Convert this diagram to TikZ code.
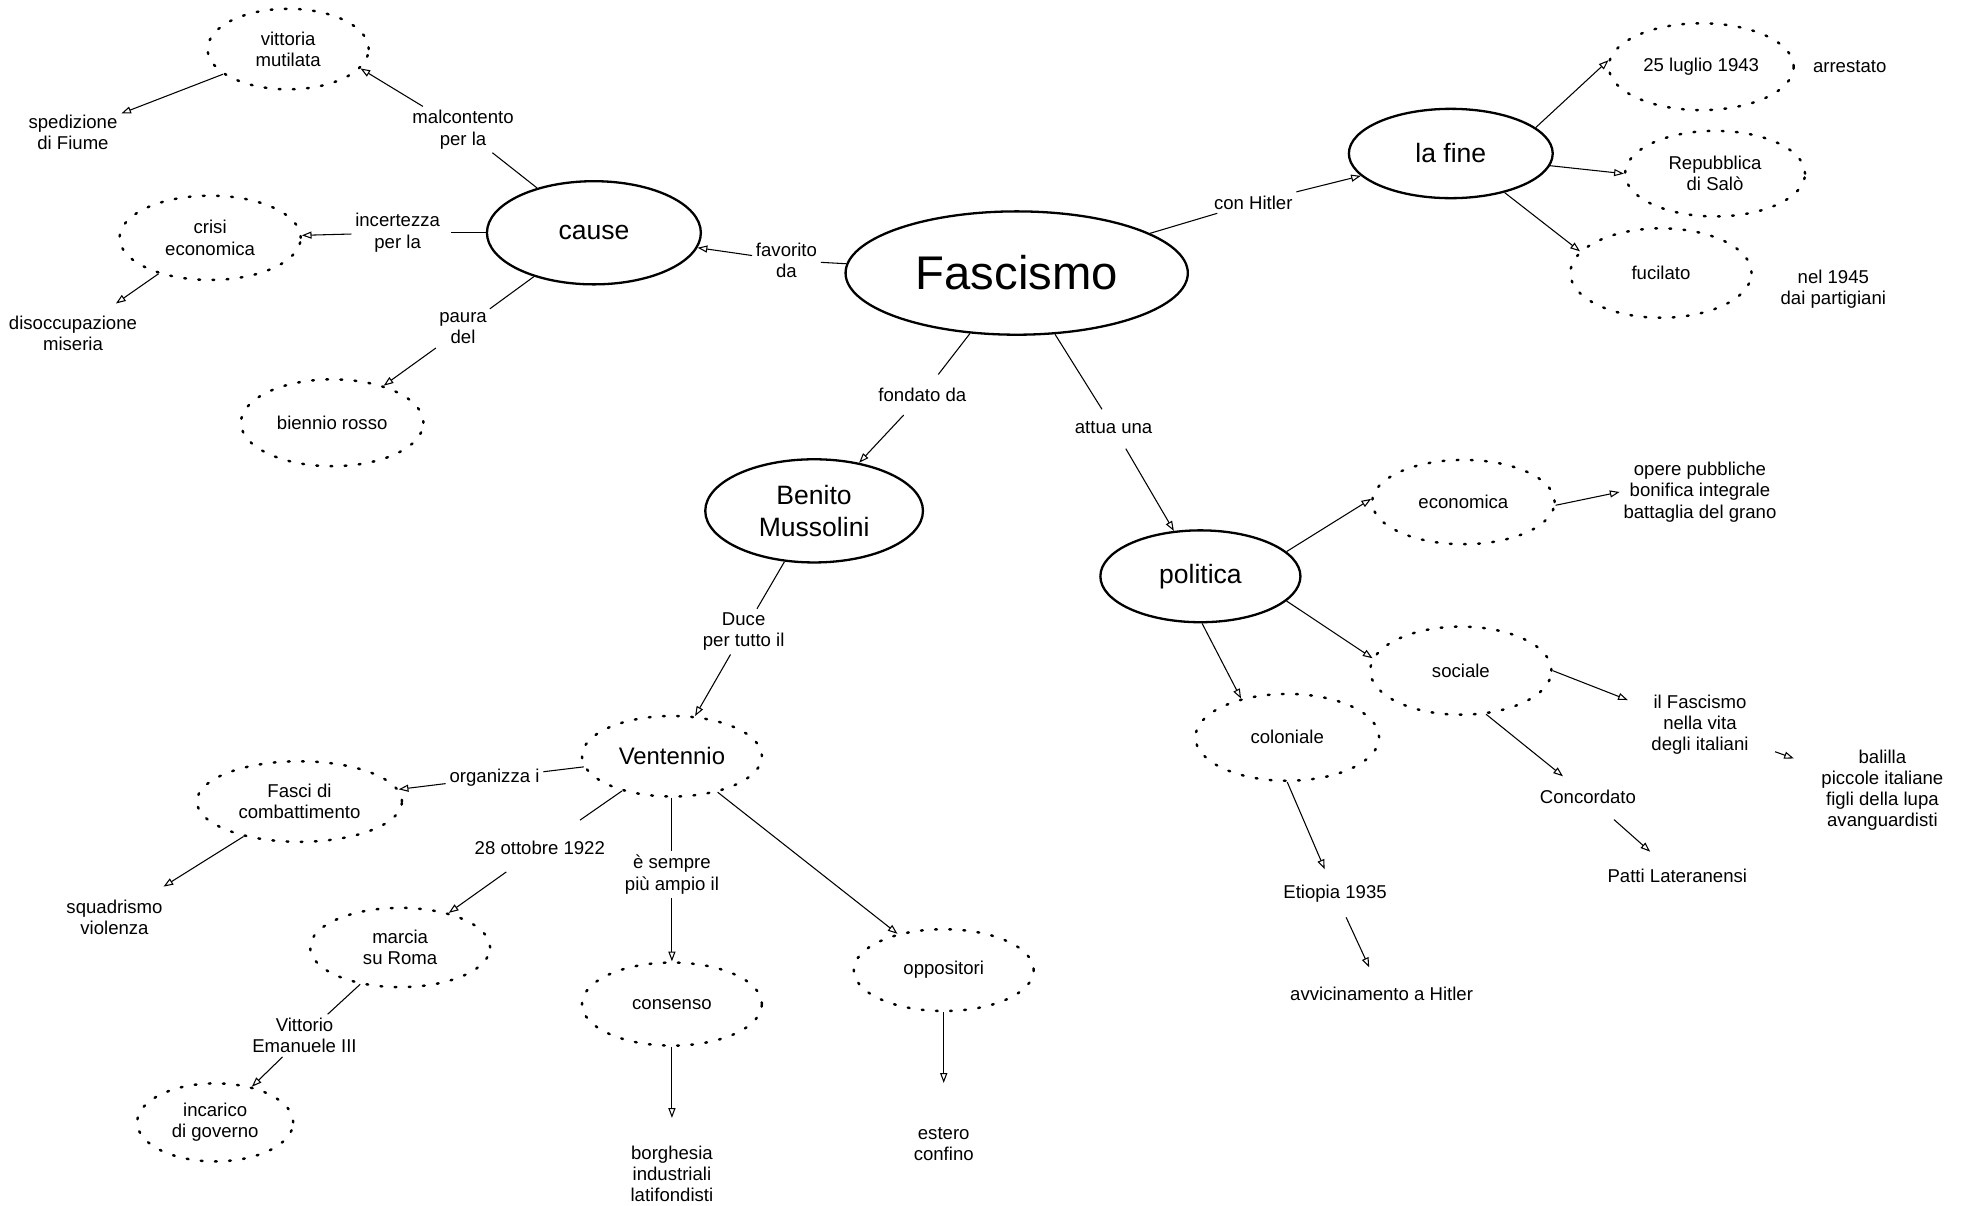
\documentclass[tikz,border=0pt]{standalone}
\usepackage{fontspec}
\setmainfont{Liberation Sans}
\usetikzlibrary{shapes.geometric,arrows.meta}
\tikzset{
  sz/.style 2 args={minimum width=#1*0.025cm, minimum height=#2*0.025cm},
  mainell/.style={draw, ellipse, line width=1.3pt, inner sep=0pt, align=center,
    font=\fontsize{15}{18}\selectfont},
  dotell/.style={draw, ellipse, line width=1.4pt, line cap=round,
    dash pattern=on 1pt off 7pt, inner sep=0pt, align=center,
    font=\fontsize{10.5}{12}\selectfont},
  lab/.style={inner sep=2pt, align=center, font=\fontsize{10.5}{12}\selectfont},
  ln/.style={line width=0.6pt},
  arr/.style={line width=0.6pt, -{Triangle[open,length=5.5pt,width=4pt]}}
}
\begin{document}
\begin{tikzpicture}[x=0.025cm, y=-0.025cm]
\useasboundingbox (0,0) rectangle (1568,958);
% main ellipses
\node[mainell, sz={272}{98}, font=\fontsize{26.7}{32}\selectfont] (fasc) at (808,217) {Fascismo};
\node[mainell, sz={170}{82}] (cause) at (472,185) {cause};
\node[mainell, sz={162}{71}] (fine) at (1153,122) {la fine};
\node[mainell, sz={173}{82}] (ben) at (647,406) {Benito\\Mussolini};
\node[mainell, sz={159}{73}] (pol) at (954,458) {politica};
% dotted ellipses
\node[dotell, sz={128}{64}] (vitt) at (229,39) {vittoria\\mutilata};
\node[dotell, sz={144}{67}] (crisi) at (167,189) {crisi\\economica};
\node[dotell, sz={145}{69}] (bien) at (264,336) {biennio rosso};
\node[dotell, sz={147}{69}] (l25) at (1352,53) {25 luglio 1943};
\node[dotell, sz={143}{68}] (rep) at (1363,138) {Repubblica\\di Salò};
\node[dotell, sz={144}{71}] (fuc) at (1320,217) {fucilato};
\node[dotell, sz={143}{64}, font=\fontsize{13.5}{16}\selectfont] (vent) at (534,601) {Ventennio};
\node[dotell, sz={163}{64}] (fasci) at (238,637) {Fasci di\\combattimento};
\node[dotell, sz={143}{63}] (marcia) at (318,753) {marcia\\su Roma};
\node[dotell, sz={124}{62}] (inc) at (171,892) {incarico\\di governo};
\node[dotell, sz={143}{66}] (cons) at (534,798) {consenso};
\node[dotell, sz={143}{65}] (opp) at (750,771) {oppositori};
\node[dotell, sz={145}{67}] (econ) at (1163,399) {economica};
\node[dotell, sz={144}{70}] (soc) at (1161,533) {sociale};
\node[dotell, sz={146}{69}] (col) at (1023,586) {coloniale};
% text nodes
\node[lab] (sped) at (58,105) {spedizione\\di Fiume};
\node[lab] (malc) at (368,103) {malcontento\\per la};
\node[lab] (incert) at (316,185) {incertezza\\per la};
\node[lab] (diso) at (58,265) {disoccupazione\\miseria};
\node[lab] (paura) at (368,261) {paura\\del};
\node[lab] (favo) at (625,207) {favorito\\da};
\node[lab] (conh) at (996,161) {con Hitler};
\node[lab] (arres) at (1470,53) {arrestato};
\node[lab] (nel) at (1457,230) {nel 1945\\dai partigiani};
\node[lab] (fond) at (733,314) {fondato da};
\node[lab] (attua) at (885,340) {attua una};
\node[lab] (opere) at (1351,391) {opere pubbliche\\bonifica integrale\\battaglia del grano};
\node[lab] (duce) at (591,502) {Duce\\per tutto il};
\node[lab] (ilf) at (1351,576) {il Fascismo\\nella vita\\degli italiani};
\node[lab] (bal) at (1496,628) {balilla\\piccole italiane\\figli della lupa\\avanguardisti};
\node[lab] (conc) at (1262,633) {Concordato};
\node[lab] (patti) at (1333,696) {Patti Lateranensi};
\node[lab] (etio) at (1061,710) {Etiopia 1935};
\node[lab] (avv) at (1098,790) {avvicinamento a Hitler};
\node[lab] (org) at (393,618) {organizza i};
\node[lab] (squad) at (91,729) {squadrismo\\violenza};
\node[lab] (ott) at (429,674) {28 ottobre 1922};
\node[lab] (sempre) at (534,695) {è sempre\\più ampio il};
\node[lab] (vitto) at (242,823) {Vittorio\\Emanuele III};
\node[lab] (borg) at (534,933) {borghesia\\industriali\\latifondisti};
\node[lab] (est) at (750,909) {estero\\confino};
% connectors
\draw[ln] (fasc) -- (favo);
\draw[arr] (favo) -- (cause);
\draw[ln] (cause) -- (malc);
\draw[arr] (malc.150) -- (vitt.-15);
\draw[ln, shorten >=0.15cm] (cause) -- (incert);
\draw[arr] (incert) -- (crisi);
\draw[ln] (cause) -- (paura);
\draw[arr] (paura) -- (bien);
\draw[arr] (vitt) -- (sped);
\draw[arr, shorten >=0.3cm] (crisi) -- (diso);
\draw[ln] (fasc) -- (conh);
\draw[arr] (conh) -- (fine);
\draw[arr] (fine.17) -- (l25.176);
\draw[arr] (fine.-7) -- (rep.180);
\draw[arr] (fine.-36) -- (fuc.165);
\draw[ln, shorten >=0.25cm] (fasc) -- (fond);
\draw[arr, shorten <=0.25cm] (fond) -- (ben);
\draw[ln, shorten >=0.2cm] (fasc) -- (attua);
\draw[arr, shorten <=0.25cm] (attua) -- (pol);
\draw[ln] (ben) -- (duce);
\draw[arr] (duce) -- (vent);
\draw[ln] (vent) -- (org);
\draw[arr] (org) -- (fasci);
\draw[arr, shorten >=0.35cm] (fasci) -- (squad);
\draw[ln, shorten >=0.6cm] (vent) -- (ott);
\draw[arr, shorten <=0.45cm] (ott) -- (marcia);
\draw[ln] (marcia) -- (vitto);
\draw[arr] (vitto) -- (inc);
\draw[ln] (vent) -- (sempre);
\draw[arr] (sempre) -- (cons);
\draw[arr, shorten >=0.48cm] (cons) -- (borg);
\draw[arr] (vent) -- (opp);
\draw[arr, shorten >=0.8cm] (opp) -- (est);
\draw[arr] (pol.16) -- (econ.178);
\draw[arr] (econ.-2) -- (opere.west);
\draw[arr] (pol.-16) -- (soc.172);
\draw[arr, shorten >=0.42cm] (soc.0) -- (ilf.162);
\draw[arr, shorten <=0.48cm, shorten >=0.5cm] (ilf) -- (bal);
\draw[arr, shorten >=0.3cm] (soc.-60) -- (conc.141);
\draw[arr, shorten <=0.37cm, shorten >=0.4cm] (conc) -- (patti);
\draw[arr] (pol.-88) -- (col.140);
\draw[arr, shorten >=0.25cm] (col.south) -- (etio);
\draw[arr, shorten <=0.25cm, shorten >=0.35cm] (etio) -- (avv);
\end{tikzpicture}
\end{document}
